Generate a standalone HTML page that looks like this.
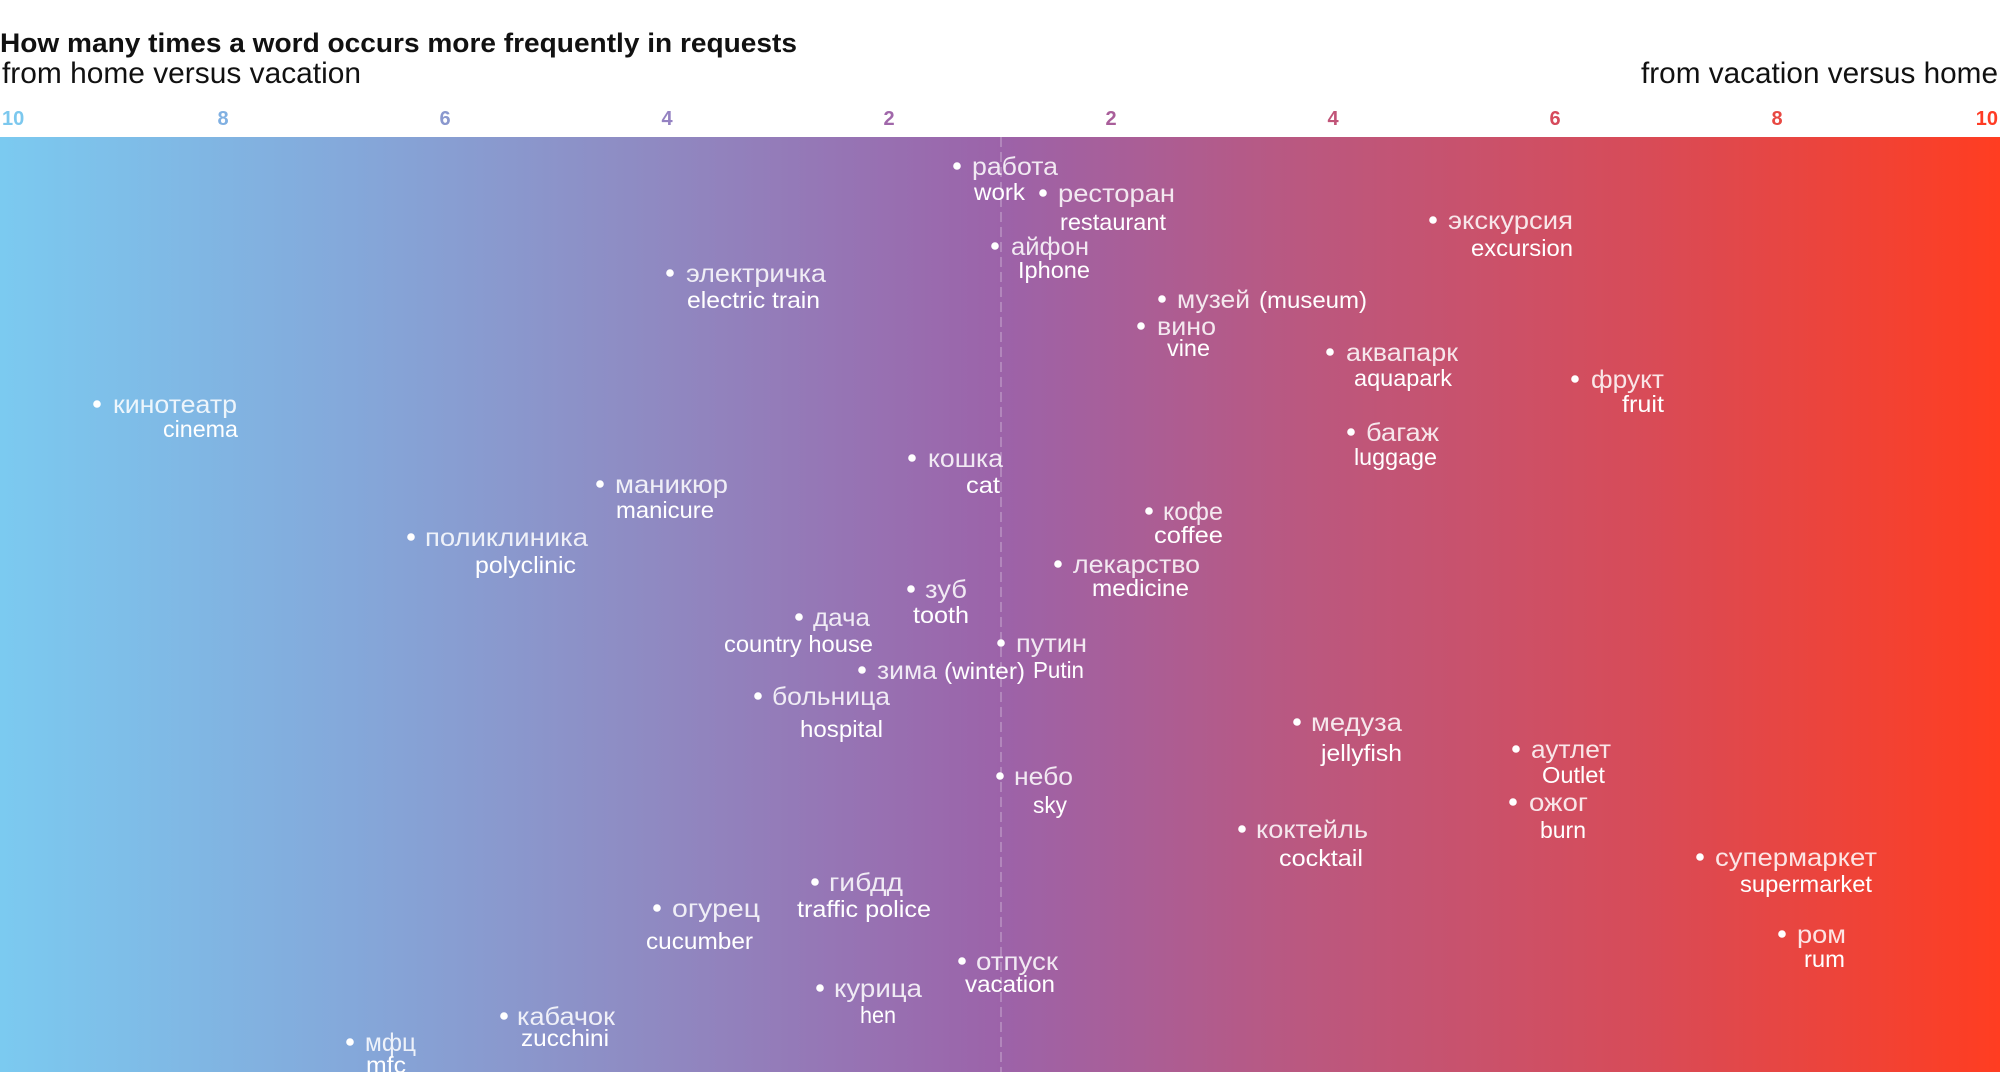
<!DOCTYPE html>
<html>
<head>
<meta charset="utf-8">
<style>
html,body{margin:0;padding:0;background:#fff;}
svg{display:block;}
.ru{font-family:"Liberation Sans","Noto Sans CJK SC",sans-serif;font-size:25px;fill:#fff;fill-opacity:0.86;}
.en{font-family:"Liberation Sans","Noto Sans CJK SC",sans-serif;font-size:23px;fill:#fff;}
.ax{font-family:"Liberation Sans",sans-serif;font-size:20px;font-weight:bold;}
</style>
</head>
<body>
<svg width="2000" height="1072" viewBox="0 0 2000 1072" xmlns="http://www.w3.org/2000/svg">
<defs>
<linearGradient id="g" x1="0" y1="0" x2="1" y2="0">
<stop offset="0" stop-color="#7BCAF0"/>
<stop offset="0.175" stop-color="#84A8DA"/>
<stop offset="0.325" stop-color="#8F8AC2"/>
<stop offset="0.5" stop-color="#9C63A9"/>
<stop offset="0.65" stop-color="#BA5880"/>
<stop offset="0.825" stop-color="#D84B57"/>
<stop offset="1" stop-color="#FF3D21"/>
</linearGradient>
</defs>
<rect x="0" y="0" width="2000" height="1072" fill="#fff"/>
<rect x="0" y="137" width="2000" height="935" fill="url(#g)"/>
<line x1="1001" y1="137" x2="1001" y2="1072" stroke="#fff" stroke-opacity="0.45" stroke-width="1" stroke-dasharray="10,5"/>

<!-- titles -->
<text x="0" y="52" font-family="Liberation Sans, sans-serif" font-weight="bold" font-size="27" fill="#111" textLength="797" lengthAdjust="spacingAndGlyphs">How many times a word occurs more frequently in requests</text>
<text x="2" y="83" font-family="Liberation Sans, sans-serif" font-size="30" fill="#111" textLength="359" lengthAdjust="spacingAndGlyphs">from home versus vacation</text>
<text x="1641" y="83" font-family="Liberation Sans, sans-serif" font-size="30" fill="#111" textLength="357" lengthAdjust="spacingAndGlyphs">from vacation versus home</text>

<!-- axis labels -->
<text class="ax" x="2" y="125" fill="#7CC8EE">10</text>
<text class="ax" x="223" y="125" text-anchor="middle" fill="#80B0E2">8</text>
<text class="ax" x="445" y="125" text-anchor="middle" fill="#8A98CE">6</text>
<text class="ax" x="667" y="125" text-anchor="middle" fill="#9482C2">4</text>
<text class="ax" x="889" y="125" text-anchor="middle" fill="#A067AA">2</text>
<text class="ax" x="1111" y="125" text-anchor="middle" fill="#A95E9A">2</text>
<text class="ax" x="1333" y="125" text-anchor="middle" fill="#C15478">4</text>
<text class="ax" x="1555" y="125" text-anchor="middle" fill="#D64B5C">6</text>
<text class="ax" x="1777" y="125" text-anchor="middle" fill="#E84842">8</text>
<text class="ax" x="1998" y="125" text-anchor="end" fill="#FF3C25">10</text>

<!-- points -->
<g fill="#fff">
<circle cx="957" cy="166" r="3.8"/>
<circle cx="1043" cy="193" r="3.8"/>
<circle cx="995" cy="246" r="3.8"/>
<circle cx="670" cy="273" r="3.8"/>
<circle cx="1162" cy="299" r="3.8"/>
<circle cx="1141" cy="326" r="3.8"/>
<circle cx="912" cy="458" r="3.8"/>
<circle cx="1149" cy="511" r="3.8"/>
<circle cx="1058" cy="564" r="3.8"/>
<circle cx="911" cy="589" r="3.8"/>
<circle cx="97" cy="404" r="3.8"/>
<circle cx="600" cy="484" r="3.8"/>
<circle cx="411" cy="537" r="3.8"/>
<circle cx="1433" cy="220" r="3.8"/>
<circle cx="1330" cy="352" r="3.8"/>
<circle cx="1575" cy="379" r="3.8"/>
<circle cx="1351" cy="432" r="3.8"/>
<circle cx="657" cy="908" r="3.8"/>
<circle cx="504" cy="1016" r="3.8"/>
<circle cx="350" cy="1042" r="3.8"/>
<circle cx="799" cy="617" r="3.8"/>
<circle cx="1001" cy="643" r="3.8"/>
<circle cx="862" cy="670" r="3.8"/>
<circle cx="758" cy="696" r="3.8"/>
<circle cx="1000" cy="776" r="3.8"/>
<circle cx="815" cy="882" r="3.8"/>
<circle cx="962" cy="961" r="3.8"/>
<circle cx="820" cy="988" r="3.8"/>
<circle cx="1297" cy="722" r="3.8"/>
<circle cx="1242" cy="829" r="3.8"/>
<circle cx="1516" cy="749" r="3.8"/>
<circle cx="1513" cy="802" r="3.8"/>
<circle cx="1700" cy="857" r="3.8"/>
<circle cx="1782" cy="934" r="3.8"/>
</g>

<!-- russian labels -->
<g transform="translate(0,2)">
<text class="ru" x="972" y="173" textLength="86" lengthAdjust="spacingAndGlyphs">работа</text>
<text class="ru" x="1058" y="200" textLength="117" lengthAdjust="spacingAndGlyphs">ресторан</text>
<text class="ru" x="1011" y="253" textLength="78" lengthAdjust="spacingAndGlyphs">айфон</text>
<text class="ru" x="686" y="280" textLength="140" lengthAdjust="spacingAndGlyphs">электричка</text>
<text class="ru" x="1177" y="306" textLength="73" lengthAdjust="spacingAndGlyphs">музей</text>
<text class="en" x="1259" y="306" textLength="108" lengthAdjust="spacingAndGlyphs" font-size="25">(museum)</text>
<text class="ru" x="1157" y="333" textLength="59" lengthAdjust="spacingAndGlyphs">вино</text>
<text class="ru" x="928" y="465" textLength="75" lengthAdjust="spacingAndGlyphs">кошка</text>
<text class="ru" x="1163" y="518" textLength="60" lengthAdjust="spacingAndGlyphs">кофе</text>
<text class="ru" x="1073" y="571" textLength="127" lengthAdjust="spacingAndGlyphs">лекарство</text>
<text class="ru" x="925" y="596" textLength="42" lengthAdjust="spacingAndGlyphs">зуб</text>
<text class="ru" x="113" y="411" textLength="124" lengthAdjust="spacingAndGlyphs">кинотеатр</text>
<text class="ru" x="615" y="491" textLength="113" lengthAdjust="spacingAndGlyphs">маникюр</text>
<text class="ru" x="425" y="544" textLength="163" lengthAdjust="spacingAndGlyphs">поликлиника</text>
<text class="ru" x="1448" y="227" textLength="125" lengthAdjust="spacingAndGlyphs">экскурсия</text>
<text class="ru" x="1346" y="359" textLength="112" lengthAdjust="spacingAndGlyphs">аквапарк</text>
<text class="ru" x="1591" y="386" textLength="73" lengthAdjust="spacingAndGlyphs">фрукт</text>
<text class="ru" x="1366" y="439" textLength="73" lengthAdjust="spacingAndGlyphs">багаж</text>
<text class="ru" x="672" y="915" textLength="88" lengthAdjust="spacingAndGlyphs">огурец</text>
<text class="ru" x="517" y="1023" textLength="98" lengthAdjust="spacingAndGlyphs">кабачок</text>
<text class="ru" x="365" y="1049" textLength="51" lengthAdjust="spacingAndGlyphs">мфц</text>
<text class="ru" x="813" y="624" textLength="57" lengthAdjust="spacingAndGlyphs">дача</text>
<text class="ru" x="1016" y="650" textLength="71" lengthAdjust="spacingAndGlyphs">путин</text>
<text class="ru" x="877" y="677" textLength="60" lengthAdjust="spacingAndGlyphs">зима</text>
<text class="en" x="944" y="677" textLength="81" lengthAdjust="spacingAndGlyphs" font-size="25">(winter)</text>
<text class="ru" x="772" y="703" textLength="118" lengthAdjust="spacingAndGlyphs">больница</text>
<text class="ru" x="1014" y="783" textLength="59" lengthAdjust="spacingAndGlyphs">небо</text>
<text class="ru" x="829" y="889" textLength="74" lengthAdjust="spacingAndGlyphs">гибдд</text>
<text class="ru" x="976" y="968" textLength="82" lengthAdjust="spacingAndGlyphs">отпуск</text>
<text class="ru" x="834" y="995" textLength="88" lengthAdjust="spacingAndGlyphs">курица</text>
<text class="ru" x="1311" y="729" textLength="91" lengthAdjust="spacingAndGlyphs">медуза</text>
<text class="ru" x="1256" y="836" textLength="112" lengthAdjust="spacingAndGlyphs">коктейль</text>
<text class="ru" x="1531" y="756" textLength="80" lengthAdjust="spacingAndGlyphs">аутлет</text>
<text class="ru" x="1529" y="809" textLength="59" lengthAdjust="spacingAndGlyphs">ожог</text>
<text class="ru" x="1715" y="864" textLength="162" lengthAdjust="spacingAndGlyphs">супермаркет</text>
<text class="ru" x="1797" y="941" textLength="49" lengthAdjust="spacingAndGlyphs">ром</text>
</g>

<!-- english labels -->
<g transform="translate(0,2)">
<text class="en" x="974" y="198" textLength="51" lengthAdjust="spacingAndGlyphs">work</text>
<text class="en" x="1060" y="228" textLength="106" lengthAdjust="spacingAndGlyphs">restaurant</text>
<text class="en" x="1018" y="276" textLength="72" lengthAdjust="spacingAndGlyphs">Iphone</text>
<text class="en" x="687" y="306" textLength="133" lengthAdjust="spacingAndGlyphs">electric train</text>
<text class="en" x="1167" y="354" textLength="43" lengthAdjust="spacingAndGlyphs">vine</text>
<text class="en" x="966" y="491" textLength="34" lengthAdjust="spacingAndGlyphs">cat</text>
<text class="en" x="1154" y="541" textLength="69" lengthAdjust="spacingAndGlyphs">coffee</text>
<text class="en" x="1092" y="594" textLength="97" lengthAdjust="spacingAndGlyphs">medicine</text>
<text class="en" x="913" y="621" textLength="56" lengthAdjust="spacingAndGlyphs">tooth</text>
<text class="en" x="163" y="435" textLength="75" lengthAdjust="spacingAndGlyphs">cinema</text>
<text class="en" x="616" y="516" textLength="98" lengthAdjust="spacingAndGlyphs">manicure</text>
<text class="en" x="475" y="571" textLength="101" lengthAdjust="spacingAndGlyphs">polyclinic</text>
<text class="en" x="1471" y="254" textLength="102" lengthAdjust="spacingAndGlyphs">excursion</text>
<text class="en" x="1354" y="384" textLength="98" lengthAdjust="spacingAndGlyphs">aquapark</text>
<text class="en" x="1622" y="410" textLength="42" lengthAdjust="spacingAndGlyphs">fruit</text>
<text class="en" x="1354" y="463" textLength="83" lengthAdjust="spacingAndGlyphs">luggage</text>
<text class="en" x="646" y="947" textLength="107" lengthAdjust="spacingAndGlyphs">cucumber</text>
<text class="en" x="521" y="1044" textLength="88" lengthAdjust="spacingAndGlyphs">zucchini</text>
<text class="en" x="366" y="1071" textLength="40" lengthAdjust="spacingAndGlyphs">mfc</text>
<text class="en" x="724" y="650" textLength="149" lengthAdjust="spacingAndGlyphs">country house</text>
<text class="en" x="1033" y="676" textLength="51" lengthAdjust="spacingAndGlyphs">Putin</text>
<text class="en" x="800" y="735" textLength="83" lengthAdjust="spacingAndGlyphs">hospital</text>
<text class="en" x="1033" y="811" textLength="34" lengthAdjust="spacingAndGlyphs">sky</text>
<text class="en" x="797" y="915" textLength="134" lengthAdjust="spacingAndGlyphs">traffic police</text>
<text class="en" x="965" y="990" textLength="90" lengthAdjust="spacingAndGlyphs">vacation</text>
<text class="en" x="860" y="1021" textLength="36" lengthAdjust="spacingAndGlyphs">hen</text>
<text class="en" x="1321" y="759" textLength="81" lengthAdjust="spacingAndGlyphs">jellyfish</text>
<text class="en" x="1279" y="864" textLength="84" lengthAdjust="spacingAndGlyphs">cocktail</text>
<text class="en" x="1542" y="781" textLength="63" lengthAdjust="spacingAndGlyphs">Outlet</text>
<text class="en" x="1540" y="836" textLength="46" lengthAdjust="spacingAndGlyphs">burn</text>
<text class="en" x="1740" y="890" textLength="132" lengthAdjust="spacingAndGlyphs">supermarket</text>
<text class="en" x="1804" y="965" textLength="41" lengthAdjust="spacingAndGlyphs">rum</text>
</g>
</svg>
</body>
</html>
